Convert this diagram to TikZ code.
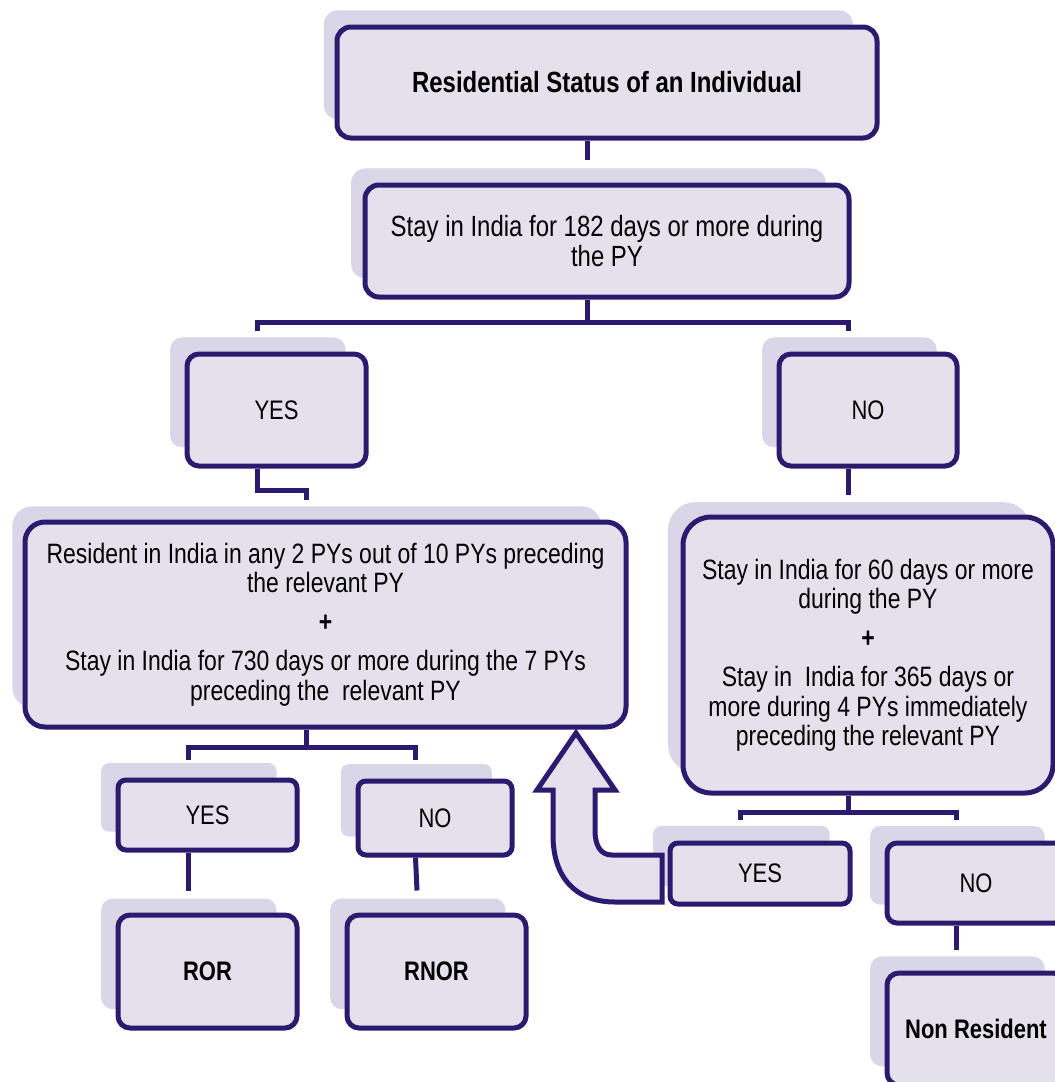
\documentclass[tikz,border=0pt]{standalone}
\usepackage{fontspec}
\setmainfont{Liberation Sans}[FakeStretch=0.82]
\usetikzlibrary{shadows}
\definecolor{boxline}{RGB}{44,26,110}
\definecolor{boxfill}{RGB}{228,224,236}
\definecolor{boxshade}{RGB}{217,214,232}
\tikzset{
  stage/.style={draw=boxline, line width=2.5pt, fill=boxfill, rounded corners=6pt,
    align=center, inner sep=2pt, text=black,
    general shadow={fill=boxshade, shadow xshift=-9.5pt, shadow yshift=9pt, shadow scale=0.98},
    font=\fontsize{14.6pt}{14.6pt}\selectfont},
  smalltxt/.style={font=\fontsize{14pt}{14.6pt}\selectfont},
  labeltxt/.style={font=\fontsize{13.4pt}{14pt}\selectfont},
  link/.style={draw=boxline, line width=2.5pt},
  bigarrow/.style={draw=boxline, fill=boxfill, line width=2.5pt, line join=miter},
}
\begin{document}
\begin{tikzpicture}[x=0.5pt, y=-0.5pt]
  \useasboundingbox (0,0) rectangle (1055,1082);
  \clip (0,0) rectangle (1055,1082);
  % boxes
  \node[stage, minimum width=270pt, minimum height=55.5pt, rounded corners=7pt] (title) at (607,82.5) {\textbf{Residential Status of an Individual}};
  \node[stage, minimum width=242pt, minimum height=56pt, rounded corners=7pt] (stay) at (607,241) {Stay in India for 182 days or more during\\the PY};
  \node[stage, labeltxt, minimum width=89.5pt, minimum height=56pt] (yes1) at (276.5,410) {YES};
  \node[stage, labeltxt, minimum width=89pt, minimum height=56pt] (no1) at (868,410) {NO};
  \node[stage, smalltxt, minimum width=300.5pt, minimum height=102.5pt, rounded corners=10pt] (crit1) at (325.5,624.5) {Resident in India in any 2 PYs out of 10 PYs preceding\\the relevant PY\\[5pt]\textbf{+}\\[5pt]Stay in India for 730 days or more during the 7 PYs\\preceding the\ \ relevant PY};
  \node[stage, smalltxt, minimum width=185pt, minimum height=138pt, rounded corners=14pt] (crit2) at (868,655) {Stay in India for 60 days or more\\during the PY\\[5pt]\textbf{+}\\[5pt]Stay in\ \ India for 365 days or\\more during 4 PYs immediately\\preceding the relevant PY};
  \node[stage, labeltxt, minimum width=89.5pt, minimum height=35pt, rounded corners=4pt] (yes2) at (207.5,815) {YES};
  \node[stage, labeltxt, minimum width=77pt, minimum height=37pt, rounded corners=4pt] (no2) at (435,818) {NO};
  \node[stage, labeltxt, minimum width=89.5pt, minimum height=56.5pt] (ror) at (207.5,971.5) {\textbf{ROR}};
  \node[stage, labeltxt, minimum width=89.5pt, minimum height=56.5pt] (rnor) at (436.5,971.5) {\textbf{RNOR}};
  \node[stage, labeltxt, minimum width=90pt, minimum height=30.5pt, rounded corners=4pt] (yes3) at (760,873.5) {YES};
  \node[stage, labeltxt, minimum width=89pt, minimum height=40pt, rounded corners=5pt] (no3) at (976,883) {NO};
  \node[stage, labeltxt, minimum width=89pt, minimum height=56pt] (nonres) at (976,1029) {\textbf{Non Resident}};
  % connectors
  \draw[link] ([xshift=-9.75pt]title.south) -- ([xshift=-9.75pt,yshift=11.5pt]stay.north);
  \draw[link] ([xshift=-9.75pt]stay.south) -- ++(0,-11.5pt) coordinate (f1);
  \draw[link] ([xshift=-9.75pt,yshift=10.5pt]yes1.north) |- (f1) -| ([xshift=-9.75pt,yshift=10.5pt]no1.north);
  \draw[link] ([xshift=-9.75pt]yes1.south) -- ++(0,-11pt) -| ([xshift=-9.75pt,yshift=10pt]crit1.north);
  \draw[link] ([xshift=-9.75pt]no1.south) -- ([xshift=-9.75pt,yshift=10pt]crit2.north);
  \draw[link] ([xshift=-9.75pt]crit1.south) -- ++(0,-9pt) coordinate (f2);
  \draw[link] ([xshift=-9.75pt,yshift=9pt]yes2.north) |- (f2) -| ([xshift=-9.75pt,yshift=9.5pt]no2.north);
  \draw[link] ([xshift=-9.75pt]crit2.south) -- ++(0,-8.5pt) coordinate (f3);
  \draw[link] ([xshift=-9.75pt,yshift=10.5pt]yes3.north) |- (f3) -| ([xshift=-9.75pt,yshift=10.5pt]no3.north);
  \draw[link] ([xshift=-9.75pt]yes2.south) -- ([xshift=-9.75pt,yshift=11pt]ror.north);
  \draw[link] ([xshift=-9.75pt]no2.south) -- ([xshift=-9.75pt,yshift=11pt]rnor.north);
  \draw[link] ([xshift=-9.75pt]no3.south) -- ([xshift=-9.75pt,yshift=10.5pt]nonres.north);
  % back arrow
  \draw[bigarrow] (662,855) -- (612,855) .. controls (600,855) and (595,845) .. (595,830)
    -- (595,790) -- (615,790) -- (576,733) -- (537,790) -- (553,790) -- (553,835)
    .. controls (553,878) and (576,902) .. (615,902) -- (662,902) -- cycle;
\end{tikzpicture}
\end{document}
